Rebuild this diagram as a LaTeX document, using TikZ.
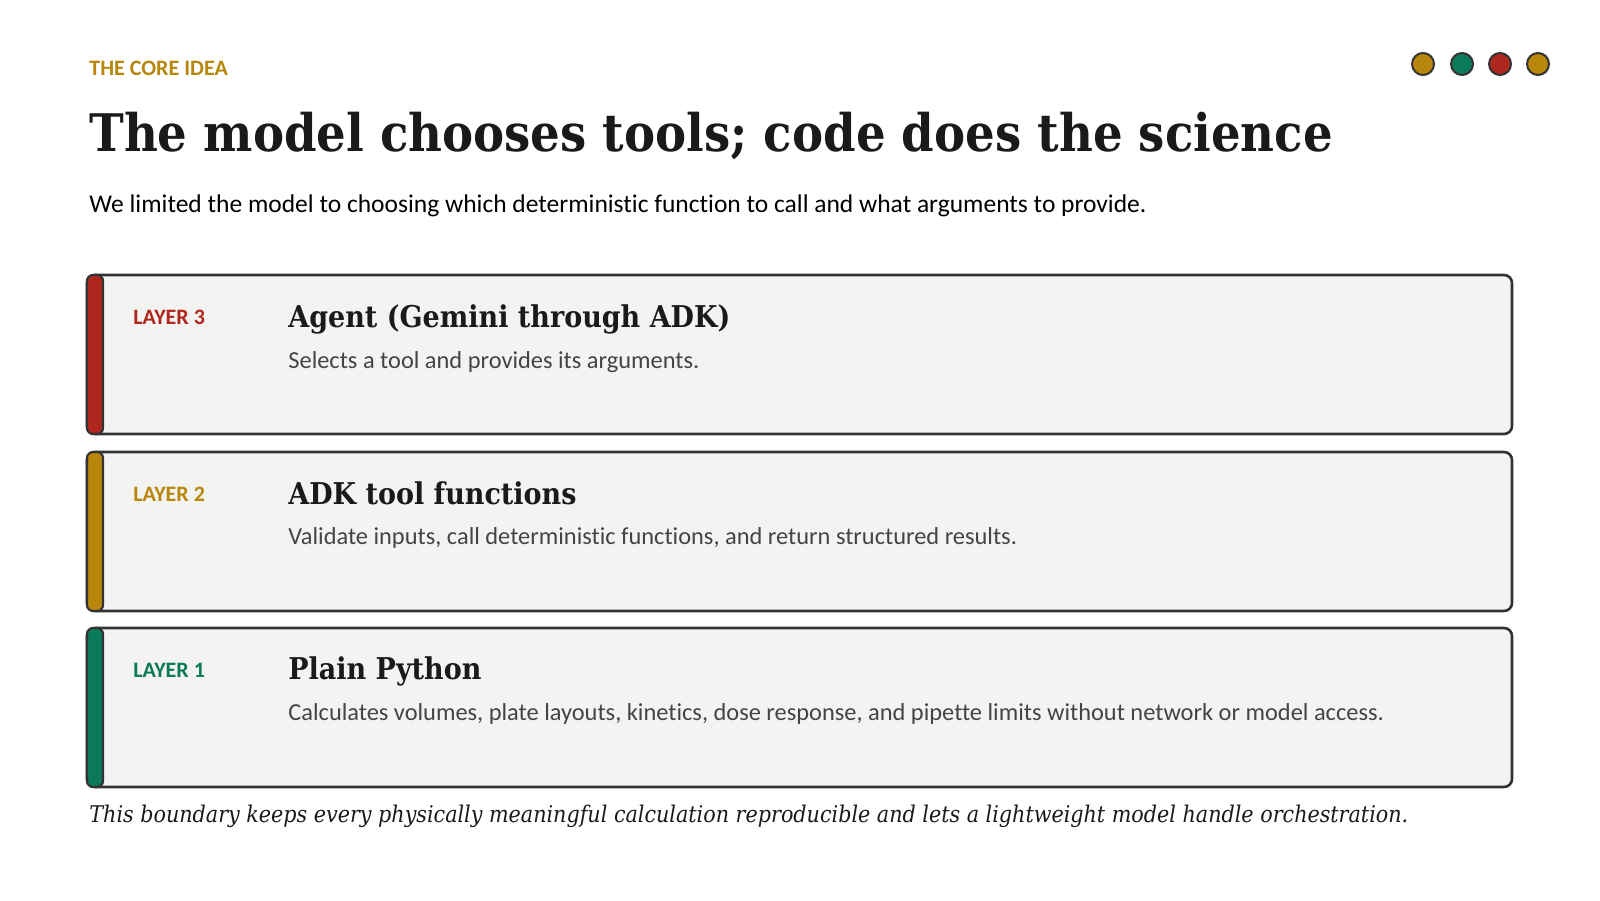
\documentclass[tikz,border=0pt]{standalone}
\usepackage{fontspec}
\setmainfont{Carlito}[Ligatures={NoCommon}]
\newfontfamily\serifbold{DejaVu Serif Condensed}[UprightFont=* Bold]
\newfontfamily\serifit{DejaVu Serif Condensed}[UprightFont=* Italic]
\definecolor{gold}{HTML}{B8860B}
\definecolor{dgreen}{HTML}{0B7A5A}
\definecolor{dred}{HTML}{B0271F}
\definecolor{edge}{HTML}{333333}
\definecolor{panel}{HTML}{F3F3F1}
\definecolor{ink}{HTML}{1A1A1A}
\definecolor{desc}{HTML}{444444}
\tikzset{
  txt/.style={inner sep=0pt, anchor=base west},
  layerbox/.style={draw=edge, line width=1.3pt, fill=panel, rounded corners=4pt},
  layerbar/.style={draw=edge, line width=1.1pt, rounded corners=3pt},
  dot/.style={circle, draw=edge, line width=1pt, minimum size=11pt, inner sep=0pt},
  kicker/.style={txt, font=\fontsize{11pt}{13pt}\selectfont\bfseries},
  headline/.style={txt, text=ink, font=\fontsize{15pt}{18pt}\serifbold},
  descr/.style={txt, text=desc, font=\fontsize{12.2pt}{14pt}\selectfont},
}
\begin{document}
\begin{tikzpicture}[x=0.5pt, y=-0.5pt]
\useasboundingbox[fill=white] (0,0) rectangle (1600,900);
% header
\node[kicker, text=gold] (kick) at (89,75) {THE CORE IDEA};
\node[txt, text=ink, font=\fontsize{25.9pt}{30pt}\serifbold] (title) at (89,151) {The model chooses tools; code does the science};
\node[txt, text=black, font=\fontsize{12.75pt}{15pt}\selectfont] (sub) at (89,212) {We limited the model to choosing which deterministic function to call and what arguments to provide.};
% dots
\node[dot, fill=gold] (d1) at (1423,64) {};
\node[dot, fill=dgreen] (d2) at (1462,64) {};
\node[dot, fill=dred] (d3) at (1500,64) {};
\node[dot, fill=gold] (d4) at (1538,64) {};
% layer 3
\draw[layerbox] (87,275) rectangle (1512,434);
\draw[layerbar, fill=dred] (87,275) rectangle (103,434);
\node[kicker, text=dred] (l3) at (133,324) {LAYER 3};
\node[headline] (h3) at (288,327) {Agent (Gemini through ADK)};
\node[descr] (t3) at (288,368) {Selects a tool and provides its arguments.};
% layer 2
\draw[layerbox] (87,452) rectangle (1512,611);
\draw[layerbar, fill=gold] (87,452) rectangle (103,611);
\node[kicker, text=gold] (l2) at (133,501) {LAYER 2};
\node[headline] (h2) at (288,504) {ADK tool functions};
\node[descr] (t2) at (288,544) {Validate inputs, call deterministic functions, and return structured results.};
% layer 1
\draw[layerbox] (87,628) rectangle (1512,787);
\draw[layerbar, fill=dgreen] (87,628) rectangle (103,787);
\node[kicker, text=dgreen] (l1) at (133,677) {LAYER 1};
\node[headline] (h1) at (288,679) {Plain Python};
\node[descr] (t1) at (288,720) {Calculates volumes, plate layouts, kinetics, dose response, and pipette limits without network or model access.};
% footer
\node[txt, text=ink, font=\fontsize{11.5pt}{14pt}\serifit] (foot) at (89,822) {This boundary keeps every physically meaningful calculation reproducible and lets a lightweight model handle orchestration.};
\end{tikzpicture}
\end{document}
